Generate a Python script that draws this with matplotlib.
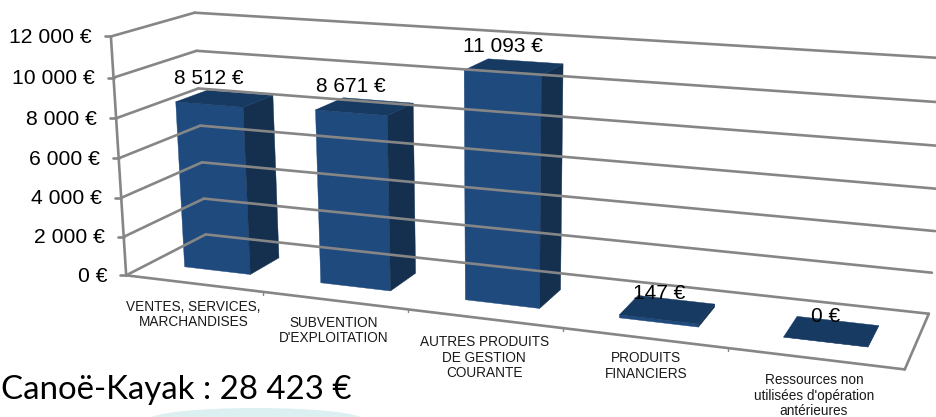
import numpy as np
import matplotlib
matplotlib.use('Agg')
import matplotlib.pyplot as plt
from matplotlib.patches import Ellipse

plt.rcParams['font.family'] = ['Liberation Sans', 'DejaVu Sans']

# chart data
categories = ["VENTES, SERVICES,\nMARCHANDISES",
              "SUBVENTION\nD'EXPLOITATION",
              "AUTRES PRODUITS\nDE GESTION\nCOURANTE",
              "PRODUITS\nFINANCIERS",
              "Ressources non\nutilisées d'opération\nantérieures"]
values = [8512, 8671, 11093, 147, 0]
value_labels = ['8 512 €', '8 671 €', '11 093 €', '147 €', '0 €']
y_ticks = [0, 2000, 4000, 6000, 8000, 10000, 12000]
y_tick_labels = ['0 €', '2 000 €', '4 000 €', '6 000 €', '8 000 €', '10 000 €', '12 000 €']
title = 'Canoë-Kayak : 28 423 €'

# 3d box of the chart: (category pos, value, depth) -> pixel, used to fit the perspective
calib = [
    (0, 0, 0, 127, 275), (0, 10000, 0, 114, 77), (0, 12000, 0, 111, 36),
    (0, 0, 1, 206, 234), (0, 8000, 1, 198, 88), (0, 10000, 1, 197, 51), (0, 12000, 1, 194, 13),
    (1, 0, 0, 262, 293), (2, 0, 0, 407, 311), (4, 0, 0, 728, 348), (5, 0, 0, 905, 368),
    (5, 0, 1, 929, 313), (5, 2000, 1, 932, 273), (5, 10000, 1, 945, 103), (5, 12000, 1, 948, 59),
]

rows = []
rhs = []
for u, v, w, px, py in calib:
    v = v / 12000
    rows.append([u, v, w, 1, 0, 0, 0, 0, -px*u, -px*v, -px*w])
    rhs.append(px)
    rows.append([0, 0, 0, 0, u, v, w, 1, -py*u, -py*v, -py*w])
    rhs.append(py)
p = np.linalg.lstsq(np.array(rows, dtype=float), np.array(rhs, dtype=float), rcond=None)[0]
P = np.append(p, 1).reshape(3, 4)


def proj(u, v, w):
    x, y, h = P @ np.array([u, v / 12000, w, 1])
    return x / h, y / h


def quad(ax, pts, color):
    ax.fill([q[0] for q in pts], [q[1] for q in pts], color=color, lw=0.3)


def line(ax, a, b, lw=1.9):
    ax.plot([a[0], b[0]], [a[1], b[1]], color='#868686', lw=lw, solid_capstyle='round')


fig = plt.figure(figsize=(9.37, 4.17), dpi=100)
ax = fig.add_axes([0, 0, 1, 1])
ax.set_xlim(0, 937)
ax.set_ylim(417, 0)
ax.axis('off')

# walls and floor
for t, lab in zip(y_ticks, y_tick_labels):
    a = proj(0, t, 0)
    b = proj(0, t, 1)
    c = proj(5, t, 1)
    line(ax, a, b)
    line(ax, b, c)
    line(ax, (a[0] - 6, a[1]), a)
    ax.text(a[0] - 19, a[1] + 1, lab, ha='right', va='center', fontsize=15.2, color='black')
line(ax, proj(0, 0, 0), proj(0, 12000, 0))
line(ax, proj(0, 0, 0), proj(5, 0, 0))
line(ax, proj(5, 0, 0), proj(5, 0, 1))
for i in range(1, 5):
    a = proj(i, 0, 0)
    line(ax, a, (a[0], a[1] + 3), lw=1)

# bars
u0, u1 = 0.26, 0.75
w0, w1 = 0.29, 0.68
for i, val in enumerate(values):
    fl = proj(i + u0, 0, w0)
    fr = proj(i + u1, 0, w0)
    br = proj(i + u1, 0, w1)
    tfl = proj(i + u0, val, w0)
    tfr = proj(i + u1, val, w0)
    tbr = proj(i + u1, val, w1)
    tbl = proj(i + u0, val, w1)
    quad(ax, [fl, fr, tfr, tfl], '#1f4a7e')
    quad(ax, [fr, br, tbr, tfr], '#15304f')
    quad(ax, [tfl, tfr, tbr, tbl], '#173a63')
    c = proj(i + (u0 + u1) / 2, val, w0)
    ax.text(c[0], c[1] - 26, value_labels[i], ha='center', va='center',
            fontsize=15, color='black')

# category labels under the front edge
label_dx = [0, -1, 0, 2, -1]
label_dy = [31, 30, 39, 28, 37]
for i, lab in enumerate(categories):
    c = proj(i + 0.5, 0, 0)
    ax.text(c[0] + label_dx[i], c[1] + label_dy[i], lab, ha='center', va='center', fontsize=9.8,
            linespacing=1.15, color='#1a1a1a')

ax.text(1, 390, title, ha='left', va='center', fontsize=23.8, family=['Lato', 'DejaVu Sans'],
        color='black')
ax.add_patch(Ellipse((256, 420), 216, 24, color='#dceff1', lw=0))

fig.savefig('out.png', dpi=100)
